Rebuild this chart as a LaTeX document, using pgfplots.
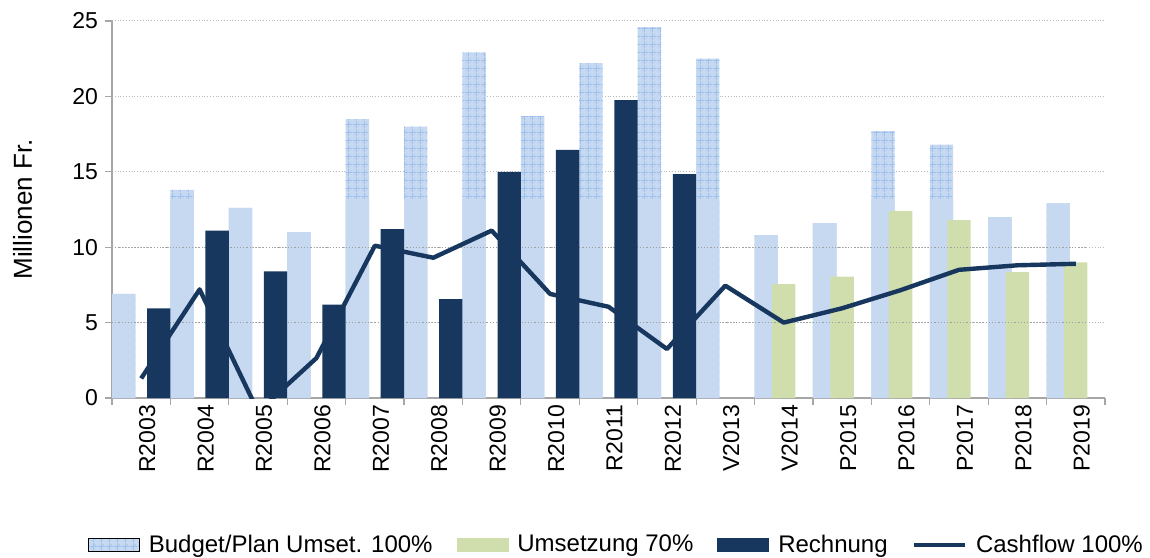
\documentclass[border=0pt]{standalone}
\usepackage{pgfplots}
\pgfplotsset{compat=1.18}
\usetikzlibrary{patterns.meta}
\usepackage{fontspec}
\setmainfont{Liberation Sans}
\definecolor{cBudget}{HTML}{C6D9F1}
\definecolor{cGridBlue}{HTML}{9DC0EC}
\definecolor{cGreen}{HTML}{D0DEAE}
\definecolor{cNavy}{HTML}{17375E}
\tikzdeclarepattern{
  name=xgrid,
  type=uncolored,
  bounding box={(0pt,0pt) and (3.75pt,3.75pt)},
  tile size={(3.75pt,3.75pt)},
  code={
    \draw[line width=0.45pt] (0pt,1.875pt) -- (3.75pt,1.875pt);
    \draw[line width=0.45pt] (1.875pt,0pt) -- (1.875pt,3.75pt);
    \fill (0.9pt,0.9pt) circle (0.25pt);
    \fill (2.8pt,2.8pt) circle (0.25pt);
  }
}
\begin{document}
\begin{tikzpicture}
\useasboundingbox (0,0) rectangle (575pt,278.5pt);
\begin{axis}[
  at={(56pt,79.5pt)}, anchor=south west,
  scale only axis, width=496.5pt, height=188.5pt,
  xmin=-0.5, xmax=16.5, ymin=0, ymax=25,
  axis x line*=bottom, axis y line*=left,
  axis line style={gray!70, line width=0.6pt},
  tick align=outside,
  ytick={0,5,...,25},
  ymajorgrids,
  major grid style={densely dotted, gray!55, line width=0.5pt},
  y tick style={gray!70, line width=0.6pt},
  major tick length=3.5pt,
  xtick={-0.5,0.5,...,16.5},
  xticklabels={,,,,,,,,,,,,,,,,,,},
  x tick style={gray!70, line width=0.6pt},
  extra x ticks={0,1,...,16},
  extra x tick labels={R2003,R2004,R2005,R2006,R2007,R2008,R2009,R2010,R2011,R2012,V2013,V2014,P2015,P2016,P2017,P2018,P2019},
  extra x tick style={major tick length=0pt, grid=none,
    tick label style={rotate=90, anchor=east, yshift=-3pt}},
  /pgf/number format/assume math mode=true,
  tick label style={font=\fontsize{11.5}{13}\selectfont},
  ylabel={Millionen Fr.},
  ylabel style={at={(axis description cs:-0.09,0.5)}, anchor=center, font=\fontsize{13}{15}\selectfont},
  legend columns=4,
  legend style={at={(axis description cs:0.509,-0.39)}, anchor=center,
    draw=none, fill=none, font=\fontsize{12}{14}\selectfont,
    /tikz/every odd column/.append style={column sep=2.5pt},
    /tikz/every even column/.append style={column sep=10pt}},
  legend cell align=left,
]
% Budget/Plan full height (patterned part shows above 13.2)
\addplot[ybar, bar width=0.4, bar shift=-0.3, draw=none, fill=cBudget,
  postaction={pattern=xgrid, pattern color=cGridBlue}, forget plot] coordinates {
  (0,6.9) (1,13.8) (2,12.6) (3,11.0) (4,18.5) (5,18.0) (6,22.9) (7,18.7) (8,22.2)
  (9,24.6) (10,22.5) (11,10.8) (12,11.6) (13,17.7) (14,16.8) (15,12.0) (16,12.9)};
% Budget/Plan plain lower part
\addplot[ybar, bar width=0.4, bar shift=-0.3, draw=none, fill=cBudget, forget plot] coordinates {
  (0,6.9) (1,13.2) (2,12.6) (3,11.0) (4,13.2) (5,13.2) (6,13.2) (7,13.2) (8,13.2)
  (9,13.2) (10,13.2) (11,10.8) (12,11.6) (13,13.2) (14,13.2) (15,12.0) (16,12.9)};
% Umsetzung 70%
\addplot[ybar, bar width=0.4, bar shift=0, draw=none, fill=cGreen, forget plot] coordinates {
  (11,7.55) (12,8.05) (13,12.4) (14,11.8) (15,8.35) (16,9.0)};
\draw[densely dotted, gray!75, line width=0.6pt] (axis cs:-0.5,5) -- (axis cs:16.2,5);
\draw[densely dotted, gray!75, line width=0.6pt] (axis cs:-0.5,10) -- (axis cs:16.2,10);
% Rechnung
\addplot[ybar, bar width=0.4, bar shift=0.3, draw=none, fill=cNavy, forget plot] coordinates {
  (0,5.95) (1,11.1) (2,8.4) (3,6.2) (4,11.2) (5,6.55) (6,15.0) (7,16.45) (8,19.75) (9,14.85)};
% Cashflow 100%
\addplot[cNavy, line width=2.2pt, line join=round, mark=none, forget plot] coordinates {
  (0,1.3) (1,7.2) (2,-0.9) (3,2.65) (4,10.1) (5,9.3) (6,11.1) (7,6.9) (8,6.05)
  (9,3.25) (10,7.45) (11,5.0) (12,5.95) (13,7.15) (14,8.5) (15,8.8) (16,8.9)};

\addlegendimage{legend image code/.code={
  \fill[cBudget] (0pt,-3.25pt) rectangle (25.5pt,3.25pt);
  \fill[pattern=xgrid, pattern color=cGridBlue] (0pt,-3.25pt) rectangle (25.5pt,3.25pt);}}
\addlegendentry{Budget/Plan Umset. 100\%}
\addlegendimage{legend image code/.code={
  \fill[cGreen] (0pt,-3.25pt) rectangle (25.5pt,3.25pt);}}
\addlegendentry{Umsetzung 70\%}
\addlegendimage{legend image code/.code={
  \fill[cNavy] (0pt,-3.25pt) rectangle (25.5pt,3.25pt);}}
\addlegendentry{Rechnung}
\addlegendimage{legend image code/.code={
  \draw[cNavy, line width=2.2pt] (0pt,0pt) -- (25.5pt,0pt);}}
\addlegendentry{Cashflow 100\%}
\end{axis}
\end{tikzpicture}
\end{document}
